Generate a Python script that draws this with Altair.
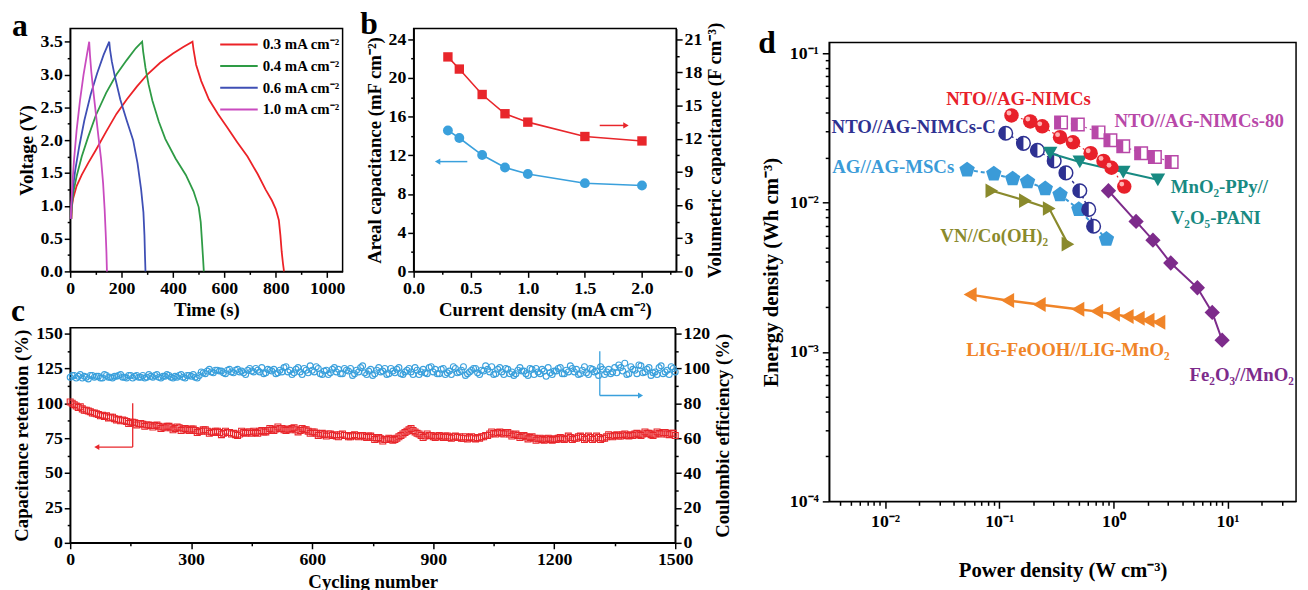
import altair as alt
import pandas as pd

FONT = "Liberation Serif"
panel_letters = ["a", "b", "c", "d"]

# ---------------- panel a : GCD curves ----------------
a_labels = ["0.3 mA cm⁻²", "0.4 mA cm⁻²", "0.6 mA cm⁻²", "1.0 mA cm⁻²"]
a_colors = ["#ec2227", "#2e9b45", "#3f4fb5", "#c94bbf"]
a_t_03 = [5, 7, 12, 25, 45, 70, 100, 140, 180, 220, 260, 300, 350, 400, 440, 476,
          480, 490, 510, 540, 575, 610, 650, 690, 730, 760, 785, 800, 812, 818, 823, 828, 832]
a_v_03 = [0.8, 1.0, 1.12, 1.3, 1.47, 1.65, 1.85, 2.13, 2.4, 2.62, 2.82, 3.0, 3.18, 3.32, 3.42, 3.5,
          3.38, 3.15, 2.9, 2.62, 2.4, 2.2, 1.97, 1.75, 1.48, 1.25, 1.08, 0.95, 0.78, 0.55, 0.3, 0.12, 0.0]
a_t_04 = [4, 6, 12, 25, 45, 70, 100, 140, 180, 220, 255, 280,
          284, 293, 305, 320, 345, 370, 410, 450, 480, 500, 508, 513, 517, 520]
a_v_04 = [0.8, 1.0, 1.2, 1.45, 1.75, 2.05, 2.38, 2.72, 3.0, 3.22, 3.4, 3.5,
          3.35, 3.1, 2.85, 2.6, 2.28, 2.02, 1.72, 1.47, 1.22, 0.98, 0.75, 0.45, 0.2, 0.0]
a_t_06 = [3, 5, 10, 20, 35, 55, 80, 105, 130, 152,
          155, 162, 175, 195, 220, 245, 262, 276, 285, 289, 291, 293]
a_v_06 = [0.8, 1.0, 1.25, 1.55, 1.9, 2.3, 2.7, 3.02, 3.3, 3.5,
          3.38, 3.2, 2.95, 2.62, 2.3, 2.0, 1.65, 1.25, 0.9, 0.55, 0.25, 0.0]
a_t_10 = [2, 4, 8, 15, 25, 38, 52, 65, 74,
          77, 82, 90, 100, 110, 120, 128, 134, 138, 141, 143]
a_v_10 = [0.8, 1.0, 1.3, 1.7, 2.15, 2.6, 3.0, 3.3, 3.5,
          3.3, 3.05, 2.75, 2.4, 2.05, 1.72, 1.35, 0.95, 0.6, 0.3, 0.0]

# ---------------- panel b : capacitance vs current density ----------------
b_current = [0.3, 0.4, 0.6, 0.8, 1.0, 1.5, 2.0]
b_areal = [14.57, 13.79, 12.03, 10.74, 10.07, 9.12, 8.88]
b_vol = [19.4, 18.3, 16.0, 14.26, 13.5, 12.2, 11.8]
b_arrow_blue = {"x": [0.47], "x2": [0.21], "y": [11.35]}
b_arrow_red = {"x": [1.63], "x2": [1.86], "y": [13.2]}

# ---------------- panel c : cycling ----------------
c_cycles = list(range(0, 1501, 10))
c_retention = [101, 99, 97, 96, 95, 94, 93, 92, 91.5, 91, 90,
               89, 88.5, 88, 87, 86.5, 86, 85.5, 85, 84.5, 84,
               84, 83.5, 83, 83.5, 82.5, 82, 82.5, 81.5, 81, 81.5,
               80.5, 80, 81, 80, 79.5, 80, 79, 78.5, 79, 78,
               77.5, 78, 79, 79.5, 78.5, 79, 80, 79.5, 80.5, 81,
               81.5, 82, 81, 81.5, 82, 81, 80.5, 81, 80, 79.5,
               78.5, 78, 77.5, 78, 77, 76.5, 77.5, 77, 76, 77,
               76.5, 77, 76, 76.5, 75.5, 75, 74.5, 74, 75, 73.5,
               75, 77, 79, 81, 80.5, 78.5, 77, 76.5, 77, 76,
               76.5, 76, 76.5, 75.5, 76, 75.5, 75, 76, 75.5, 75,
               75.5, 76, 77, 78, 78.5, 79, 78.5, 79, 78, 77.5,
               77, 76.5, 76, 75.5, 75, 74.5, 74, 74.5, 74, 74.5,
               75, 74.5, 75, 75.5, 75, 76, 75.5, 75, 75.5, 75,
               75.5, 75, 76, 76.5, 77, 76.5, 77.5, 77, 77.5, 78,
               77.5, 78, 78.5, 77.5, 78, 78.5, 79, 78, 78.5, 77]
c_efficiency = [95, 96, 95.5, 94.5, 95, 96, 95, 95.5, 94.5, 96, 95,
                95.5, 96, 95, 94.5, 96, 95.5, 95, 96, 95, 95.5,
                96, 95, 95.5, 96.5, 95, 95.5, 96, 95, 96, 95.5,
                95, 96, 97.5, 98.5, 98, 99, 98.5, 97.5, 99, 98,
                99, 98, 97.5, 99, 98.5, 100, 98, 97, 99.5, 98.5,
                97, 99, 100.5, 98, 96.5, 99.5, 98, 100, 97.5, 99,
                101, 97, 98.5, 96.5, 99.5, 98, 97, 100, 98.5, 96,
                99, 100.5, 97.5, 98.5, 96, 99, 98, 100, 97, 98.5,
                99.5, 97, 98, 100, 96.5, 99, 98, 97.5, 100.5, 98,
                97, 99.5, 96.5, 98.5, 101, 97.5, 99, 96, 98, 100,
                97.5, 99, 101.5, 98, 96.5, 99.5, 98, 100, 97, 96,
                99, 98.5, 97, 100, 96.5, 98, 99.5, 95.5, 97.5, 98.5,
                100, 97, 99, 101.5, 98, 96.5, 99, 97.5, 100, 98,
                96, 99.5, 98, 97, 100.5, 102, 98.5, 96.5, 101, 99,
                102, 97.5, 99.5, 96, 98, 100.5, 97, 99, 101, 98]
c_cycles_b = list(range(5, 1500, 10))
c_retention_b = [100, 98, 97.5, 95, 94.5, 93, 92.5, 91, 90.5, 89.5,
                 90, 88, 87.5, 87.5, 85.5, 86.5, 84.5, 85.5, 83.5, 84.5,
                 83, 84.5, 82, 82.5, 83.5, 81, 83, 80.5, 82, 80.5,
                 81.5, 79, 80, 81, 78.5, 79, 80, 77.5, 80, 79,
                 78.5, 77, 80, 78.5, 79.5, 80, 78.5, 80.5, 79.5, 82,
                 80.5, 83, 82, 80.5, 81, 82.5, 79.5, 82, 81, 78.5,
                 79.5, 77, 78.5, 76.5, 78, 77.5, 76, 78, 77, 76,
                 77.5, 76, 77, 75.5, 76.5, 74, 75.5, 73, 74, 74.5,
                 74, 76, 78, 80, 82, 79.5, 78, 75.5, 78, 77,
                 75.5, 77, 75.5, 76.5, 75, 76.5, 76, 75, 74.5, 76,
                 74.5, 75, 76, 77, 79.5, 78, 79.5, 78, 79, 76.5,
                 78, 75.5, 77, 74.5, 76, 73.5, 75, 73.5, 75, 73.5,
                 74, 75.5, 74, 76.5, 74, 75, 76.5, 74, 76.5, 74,
                 76.5, 74, 75, 77.5, 76, 77.5, 76.5, 78, 76.5, 77,
                 78.5, 77, 79.5, 78.5, 77, 79.5, 78, 79, 77.5, 78.5]
c_efficiency_b = [96, 94.5, 96.5, 95.5, 94, 96, 95.5, 94.5, 96.5, 95,
                  94.5, 95.5, 96.5, 95, 96, 94.5, 96, 95, 94.5, 96.5,
                  95, 96.5, 94.5, 95.5, 96, 94.5, 95, 96.5, 94.5, 96,
                  96.5, 94.5, 98, 97, 99.5, 97.5, 99, 98.5, 97, 99.5,
                  97.5, 99.5, 98.5, 96.5, 100, 98, 99, 100.5, 97.5, 99,
                  99.5, 97.5, 98, 101, 99, 97.5, 100.5, 96.5, 99, 101.5,
                  98, 100, 96.5, 99, 97.5, 100.5, 99.5, 97, 99, 100,
                  97, 98, 101.5, 96.5, 99.5, 97, 100.5, 98.5, 96.5, 100,
                  97.5, 100.5, 96.5, 99, 98, 100.5, 96.5, 99.5, 97, 101,
                  99.5, 97, 100, 97.5, 96.5, 100, 98, 101, 97, 99,
                  100, 96.5, 98.5, 99.5, 101, 97, 100.5, 96.5, 99.5, 98,
                  97, 100.5, 98.5, 96, 99.5, 100, 97, 98.5, 100.5, 96.5,
                  98.5, 100.5, 97, 98, 100, 99.5, 97, 101, 96.5, 99.5,
                  98.5, 101, 96.5, 99.5, 98, 97.5, 100.5, 103, 97, 99.5,
                  97, 101.5, 98, 100.5, 97.5, 96.5, 101.5, 98, 96.5, 100]
c_arrow_red = {"x": [155, 155], "x2": [155, 66], "y": [100, 68.6], "y2": [68.6, 68.6]}
c_head_red = {"x": [66], "y": [68.6]}
c_arrow_blue = {"x": [1313, 1313], "x2": [1313, 1414], "y": [109.9, 84.5], "y2": [84.5, 84.5]}
c_head_blue = {"x": [1414], "y": [84.5]}

# ---------------- panel d : Ragone plot ----------------
d_nimcs_x = [0.128, 0.187, 0.238, 0.341, 0.442, 0.632, 0.819, 0.962, 1.245]
d_nimcs_y = [0.0383, 0.0349, 0.0324, 0.0274, 0.0253, 0.0214, 0.0190, 0.0171, 0.0128]
d_nimcsc_x = [0.114, 0.163, 0.216, 0.303, 0.384, 0.508, 0.608, 0.671]
d_nimcsc_y = [0.0291, 0.0249, 0.0224, 0.0190, 0.0158, 0.0120, 0.0090, 0.00694]
d_msc_x = [0.0523, 0.0896, 0.131, 0.177, 0.253, 0.341, 0.498, 0.869]
d_msc_y = [0.01656, 0.01556, 0.01442, 0.01377, 0.01239, 0.01130, 0.0090, 0.00569]
d_vn_x = [0.0861, 0.1695, 0.274, 0.400]
d_vn_y = [0.0120, 0.0103, 0.00912, 0.00527]
d_mno2_x = [0.279, 0.508, 1.22, 2.45]
d_mno2_y = [0.0214, 0.0187, 0.0160, 0.0142]
d_n80_x = [0.348, 0.488, 0.741, 0.942, 1.22, 1.75, 2.31, 3.24]
d_n80_y = [0.0343, 0.0333, 0.0295, 0.0261, 0.0238, 0.0214, 0.0202, 0.0187]
d_fe_x = [0.905, 1.58, 2.22, 3.18, 5.44, 7.34, 8.96]
d_fe_y = [0.0120, 0.00748, 0.00560, 0.00394, 0.00269, 0.00184, 0.00120]
d_lig_x = [0.0556, 0.1185, 0.224, 0.488, 0.713, 1.0, 1.32, 1.65, 2.01, 2.50]
d_lig_y = [0.00242, 0.00221, 0.00208, 0.00193, 0.00187, 0.00179, 0.00173, 0.00168, 0.00163, 0.00158]

d_label_text = ["NTO//AG-NIMCs", "NTO//AG-NIMCs-C", "AG//AG-MSCs", "VN//Co(OH)₂",
                "NTO//AG-NIMCs-80", "MnO₂-PPy//", "V₂O₅-PANI", "LIG-FeOOH//LIG-MnO₂", "Fe₂O₃//MnO₂"]
d_label_x = [0.0344, 0.0034, 0.00345, 0.0305, 1.02, 3.18, 3.18, 0.0513, 4.64]
d_label_y = [0.0489, 0.0319, 0.0173, 0.00596, 0.0349, 0.01276, 0.00783, 0.00103, 0.000705]
d_label_color = ["#e8202a", "#2e3192", "#3b9bd8", "#8a8a2c", "#b848a8",
                 "#188a82", "#188a82", "#f08428", "#7d2b8b"]

RED = "#e8202a"
NAVY = "#2e3192"
SKY = "#3b9bd8"
OLIVE = "#8a8a2c"
MAG = "#b848a8"
TEAL = "#188a82"
ORANGE = "#f08428"
PURPLE = "#7d2b8b"
B_RED = "#e8262b"
B_BLUE = "#3aa0dc"


def tick_vals(start, stop, step):
    n = int(round((stop - start) / step))
    return [round(start + i * step, 6) for i in range(n + 1)]


def lin_axis(step, values, fmt, **kw):
    test = f"abs(datum.value / {step} - round(datum.value / {step})) < 0.000001"
    return alt.Axis(values=values,
                    labelExpr=f"({test}) ? format(datum.value, '{fmt}') : ''",
                    tickSize={"condition": {"test": test, "value": 6}, "value": 3},
                    **kw)


def letter(ch, dx, dy):
    return alt.Chart(pd.DataFrame({"l": [ch]})).mark_text(
        font=FONT, fontSize=32, fontWeight="bold", align="left",
        baseline="top", color="black"
    ).encode(text="l:N", x=alt.value(dx), y=alt.value(dy))


# ---------- panel a ----------
rows = []
for lab, ts, vs in zip(a_labels, [a_t_03, a_t_04, a_t_06, a_t_10], [a_v_03, a_v_04, a_v_06, a_v_10]):
    for i, (t, v) in enumerate(zip(ts, vs)):
        rows.append({"series": lab, "t": t, "v": v, "i": i})
df_a = pd.DataFrame(rows)

a_lines = alt.Chart(df_a).mark_line(strokeWidth=1.8).encode(
    x=alt.X("t:Q", scale=alt.Scale(domain=[0, 1060], nice=False),
            axis=lin_axis(200, tick_vals(0, 1000, 100), "d", title="Time (s)", titlePadding=4)),
    y=alt.Y("v:Q", scale=alt.Scale(domain=[0, 3.7], nice=False),
            axis=lin_axis(0.5, tick_vals(0, 3.5, 0.25), ".1f", title="Voltage (V)", titlePadding=4)),
    color=alt.Color("series:N", scale=alt.Scale(domain=a_labels, range=a_colors),
                    legend=alt.Legend(title=None, orient="none", legendX=151, legendY=5,
                                      symbolType="stroke", symbolSize=1444, symbolStrokeWidth=2,
                                      clipHeight=22, rowPadding=0,
                                      labelFont=FONT, labelFontSize=15, labelFontWeight="bold",
                                      labelColor="black", labelOffset=4)),
    order="i:Q",
)
panel_a = alt.layer(a_lines, letter(panel_letters[0], -59, -17)).properties(width=276, height=246)

# ---------- panel b ----------
df_b = pd.DataFrame({"cd": b_current, "areal": b_areal, "vol": b_vol})
xb = alt.X("cd:Q", scale=alt.Scale(domain=[0, 2.3], nice=False),
           axis=lin_axis(0.5, tick_vals(0, 2.25, 0.25), ".1f",
                         title="Current density (mA cm⁻²)", titlePadding=4))
yb_l = alt.Y("areal:Q", scale=alt.Scale(domain=[0, 25.1], nice=False),
             axis=lin_axis(4, tick_vals(0, 24, 2), "d",
                           title="Areal capacitance (mF cm⁻²)", titlePadding=4))
yb_r = alt.Y("vol:Q", scale=alt.Scale(domain=[0, 21.96], nice=False),
             axis=lin_axis(3, tick_vals(0, 21, 1.5), "d", orient="right",
                           title="Volumetric capacitance (F cm⁻³)", titleAngle=270,
                           titleBaseline="top", titlePadding=4))

df_bab = pd.DataFrame({"cd": b_arrow_blue["x"], "cd2": b_arrow_blue["x2"], "areal": b_arrow_blue["y"]})
df_bar = pd.DataFrame({"cd": b_arrow_red["x"], "cd2": b_arrow_red["x2"], "vol": b_arrow_red["y"]})
df_bhb = pd.DataFrame({"cd": b_arrow_blue["x2"], "areal": b_arrow_blue["y"]})
df_bhr = pd.DataFrame({"cd": b_arrow_red["x2"], "vol": b_arrow_red["y"]})

b_left = alt.layer(
    alt.Chart(df_b).mark_line(color=B_BLUE, strokeWidth=1.6).encode(x=xb, y=yb_l),
    alt.Chart(df_b).mark_point(shape="circle", filled=True, size=100, color=B_BLUE, opacity=1).encode(x=xb, y=yb_l),
    alt.Chart(df_bab).mark_rule(color=B_BLUE, strokeWidth=1.5).encode(x=xb, x2="cd2:Q", y=yb_l),
    alt.Chart(df_bhb).mark_point(shape="triangle-left", filled=True, size=40, color=B_BLUE, opacity=1).encode(x=xb, y=yb_l),
    letter(panel_letters[1], -54, -20),
)
b_right = alt.layer(
    alt.Chart(df_b).mark_line(color=B_RED, strokeWidth=1.6).encode(x=xb, y=yb_r),
    alt.Chart(df_b).mark_point(shape="square", filled=True, size=90, color=B_RED, opacity=1).encode(x=xb, y=yb_r),
    alt.Chart(df_bar).mark_rule(color=B_RED, strokeWidth=1.5).encode(x=xb, x2="cd2:Q", y=yb_r),
    alt.Chart(df_bhr).mark_point(shape="triangle-right", filled=True, size=40, color=B_RED, opacity=1).encode(x=xb, y=yb_r),
)
panel_b = alt.layer(b_left, b_right).resolve_scale(y="independent").properties(width=266, height=246)

# ---------- panel c ----------
df_c = pd.DataFrame({"cyc": c_cycles + c_cycles_b,
                     "ret": c_retention + c_retention_b,
                     "eff": c_efficiency + c_efficiency_b})
xc = alt.X("cyc:Q", scale=alt.Scale(domain=[0, 1500], nice=False),
           axis=lin_axis(300, tick_vals(0, 1500, 150), "d", title="Cycling number", titlePadding=4))
yc_l = alt.Y("ret:Q", scale=alt.Scale(domain=[0, 154.2], nice=False),
             axis=lin_axis(25, tick_vals(0, 150, 12.5), "d",
                           title="Capacitance retention (%)", titlePadding=4))
yc_r = alt.Y("eff:Q", scale=alt.Scale(domain=[0, 123.4], nice=False),
             axis=lin_axis(20, tick_vals(0, 120, 10), "d", orient="right",
                           title="Coulombic efficiency (%)", titleAngle=270,
                           titleBaseline="top", titlePadding=4))
df_car = pd.DataFrame({"cyc": c_arrow_red["x"], "cyc2": c_arrow_red["x2"],
                       "ret": c_arrow_red["y"], "ret2": c_arrow_red["y2"]})
df_chr = pd.DataFrame({"cyc": c_head_red["x"], "ret": c_head_red["y"]})
df_cab = pd.DataFrame({"cyc": c_arrow_blue["x"], "cyc2": c_arrow_blue["x2"],
                       "eff": c_arrow_blue["y"], "eff2": c_arrow_blue["y2"]})
df_chb = pd.DataFrame({"cyc": c_head_blue["x"], "eff": c_head_blue["y"]})

c_left = alt.layer(
    alt.Chart(df_c).mark_point(shape="square", filled=False, size=36, strokeWidth=1.1, color=B_RED, opacity=1).encode(x=xc, y=yc_l),
    alt.Chart(df_car).mark_rule(color=B_RED, strokeWidth=1.3).encode(x=xc, x2="cyc2:Q", y=yc_l, y2="ret2:Q"),
    alt.Chart(df_chr).mark_point(shape="triangle-left", filled=True, size=35, color=B_RED, opacity=1).encode(x=xc, y=yc_l),
    letter(panel_letters[2], -60, -32),
)
c_right = alt.layer(
    alt.Chart(df_c).mark_point(shape="circle", filled=False, size=36, strokeWidth=1.1, color=B_BLUE, opacity=1).encode(x=xc, y=yc_r),
    alt.Chart(df_cab).mark_rule(color=B_BLUE, strokeWidth=1.3).encode(x=xc, x2="cyc2:Q", y=yc_r, y2="eff2:Q"),
    alt.Chart(df_chb).mark_point(shape="triangle-right", filled=True, size=35, color=B_BLUE, opacity=1).encode(x=xc, y=yc_r),
)
panel_c = alt.layer(c_left, c_right).resolve_scale(y="independent").properties(width=613, height=218)

# ---------- panel d ----------
d_x_ticks = [round(k * 10.0 ** e, 12) for e in range(-3, 2) for k in range(1, 10)
             if 0.00324 <= round(k * 10.0 ** e, 12) <= 39.8]
d_y_ticks = [round(k * 10.0 ** e, 12) for e in range(-4, 0) for k in range(1, 10)
             if round(k * 10.0 ** e, 12) <= 0.118]
x_major = "datum.value == 0.01 || datum.value == 0.1 || datum.value == 1 || datum.value == 10"
y_major = "datum.value == 0.0001 || datum.value == 0.001 || datum.value == 0.01 || datum.value == 0.1"
xd = alt.X("p:Q", scale=alt.Scale(type="log", domain=[0.00324, 39.8], nice=False),
           axis=alt.Axis(values=d_x_ticks,
                         labelExpr="datum.value == 0.01 ? '10⁻²' : datum.value == 0.1 ? '10⁻¹' : datum.value == 1 ? '10⁰' : datum.value == 10 ? '10¹' : ''",
                         tickSize={"condition": {"test": x_major, "value": 7}, "value": 4},
                         title="Power density (W cm⁻³)", titleFontSize=21, labelFontSize=18,
                         titlePadding=30, labelPadding=4))
yd = alt.Y("e:Q", scale=alt.Scale(type="log", domain=[0.0001, 0.118], nice=False),
           axis=alt.Axis(values=d_y_ticks,
                         labelExpr="datum.value == 0.0001 ? '10⁻⁴' : datum.value == 0.001 ? '10⁻³' : datum.value == 0.01 ? '10⁻²' : datum.value == 0.1 ? '10⁻¹' : ''",
                         tickSize={"condition": {"test": y_major, "value": 7}, "value": 4},
                         title="Energy density (Wh cm⁻³)", titleFontSize=21, labelFontSize=18,
                         titlePadding=8, labelPadding=4))


def ddf(xs, ys):
    return pd.DataFrame({"p": xs, "e": ys})


def dline(xs, ys, color, width=2.0, dash=None):
    kw = dict(color=color, strokeWidth=width)
    if dash is not None:
        kw["strokeDash"] = dash
    return alt.Chart(ddf(xs, ys)).mark_line(**kw).encode(x=xd, y=yd)


def dpoint(xs, ys, shape, color, size, **kw):
    return alt.Chart(ddf(xs, ys)).mark_point(shape=shape, filled=True, size=size, color=color,
                                             opacity=1, **kw).encode(x=xd, y=yd)


pentagon = "M0,-1L0.951,-0.309L0.588,0.809L-0.588,0.809L-0.951,-0.309Z"
half_circle = "M0,-1A1,1 0 0,0 0,1Z"
half_square = "M-1,-1L0,-1L0,1L-1,1Z"

df_lab = pd.DataFrame({"p": d_label_x, "e": d_label_y, "t": d_label_text, "c": d_label_color})

d_layers = [
    dline(d_lig_x, d_lig_y, ORANGE, 2.5),
    dpoint(d_lig_x, d_lig_y, "triangle-left", ORANGE, 230),
    dline(d_fe_x, d_fe_y, PURPLE, 2.0),
    dpoint(d_fe_x, d_fe_y, "diamond", PURPLE, 240),
    dline(d_vn_x, d_vn_y, OLIVE, 2.2),
    dpoint(d_vn_x, d_vn_y, "triangle-right", OLIVE, 220),
    dline(d_msc_x, d_msc_y, SKY, 2.0, [4, 3]),
    dpoint(d_msc_x, d_msc_y, pentagon, SKY, 270),
    dline(d_nimcsc_x, d_nimcsc_y, NAVY, 1.5, [3, 3]),
    dpoint(d_nimcsc_x, d_nimcsc_y, "circle", NAVY, 190, fill="white", stroke=NAVY, strokeWidth=1.5),
    dpoint(d_nimcsc_x, d_nimcsc_y, half_circle, NAVY, 190),
    dline(d_mno2_x, d_mno2_y, TEAL, 2.0),
    dpoint(d_mno2_x, d_mno2_y, "triangle-down", TEAL, 220),
    dline(d_n80_x, d_n80_y, MAG, 1.2, [2, 3]),
    dpoint(d_n80_x, d_n80_y, "square", MAG, 160, fill="white", stroke=MAG, strokeWidth=1.5),
    dpoint(d_n80_x, d_n80_y, half_square, MAG, 160),
    dline(d_nimcs_x, d_nimcs_y, RED, 1.2, [2, 3]),
    dpoint(d_nimcs_x, d_nimcs_y, "circle", RED, 215),
    dpoint(d_nimcs_x, d_nimcs_y, "circle", "#ffb3b3", 24, xOffset=-2.5, yOffset=-2.5),
    alt.Chart(df_lab).mark_text(font=FONT, fontSize=19, fontWeight="bold", align="left",
                                baseline="middle").encode(
        x=xd, y=yd, text="t:N", color=alt.Color("c:N", scale=None)),
    letter(panel_letters[3], -72, -14),
]
panel_d = alt.layer(*d_layers).properties(width=473, height=465)

spacer = alt.Chart(pd.DataFrame({"p": [1.0], "e": [1.0]})).mark_point(opacity=0).encode(
    x=alt.X("p:Q", axis=None), y=alt.Y("e:Q", axis=None)
).properties(width=473, height=14, view=alt.ViewBackground(stroke="transparent"))

ab = alt.hconcat(panel_a, panel_b, spacing=72, bounds="flush")
left_col = alt.vconcat(ab, panel_c, spacing=-27)
right_col = alt.vconcat(spacer, panel_d, spacing=0, bounds="flush")

chart = alt.hconcat(left_col, right_col, spacing=24).properties(
    padding={"left": 2, "top": -5, "right": 0, "bottom": 0},
    background="white",
).configure_view(
    stroke="black", strokeWidth=1.5
).configure_axis(
    labelFont=FONT, labelFontSize=18, labelFontWeight="bold", labelColor="black",
    titleFont=FONT, titleFontSize=19, titleFontWeight="bold", titleColor="black",
    domainColor="black", domainWidth=1.5, tickColor="black", tickWidth=1.5,
    grid=False, labelOverlap=False, labelFlush=False, labelPadding=2,
)

chart.save("out.html", embed_options={"renderer": "svg", "actions": False})
